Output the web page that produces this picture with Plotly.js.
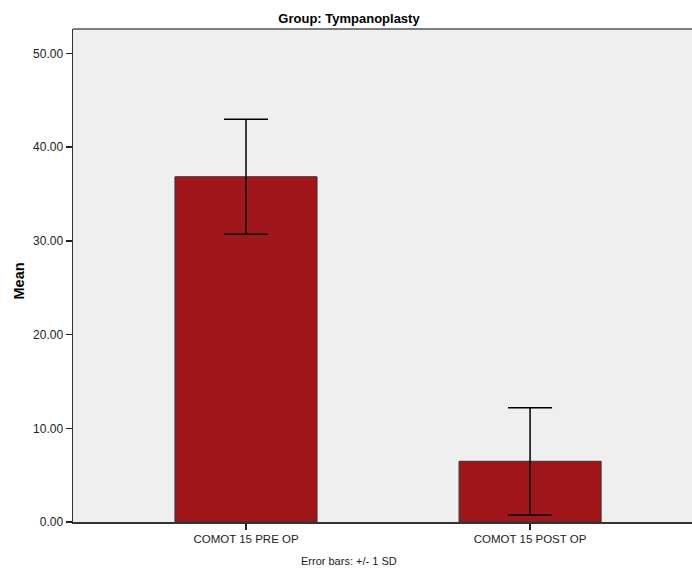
<!DOCTYPE html>
<html>
<head>
<meta charset="utf-8">
<script src="https://cdn.plot.ly/plotly-3.0.1.min.js"></script>
<style>html,body{margin:0;padding:0;background:#fff;}#chart{width:692px;height:568px;}</style>
</head>
<body>
<div id="chart"></div>
<script>
const categories = ["COMOT 15 PRE OP", "COMOT 15 POST OP"];
const means = [36.85, 6.48];
const sds = [6.15, 5.72];
const yTickVals = [0, 10, 20, 30, 40, 50];
const chartTitle = "Group: Tympanoplasty";
const yTitle = "Mean";
const footnote = "Error bars: +/- 1 SD";

const FONT = "Liberation Sans, Arial, sans-serif";

const trace = {
  type: "bar",
  x: [0, 1],
  y: means,
  width: 0.5,
  marker: { color: "#A0161A", line: { color: "#333333", width: 1 } },
  error_y: { type: "data", array: sds, visible: true, color: "#000000", thickness: 1.5, width: 22 },
  hoverinfo: "none"
};

const layout = {
  width: 692,
  height: 568,
  margin: { l: 73, r: 0, t: 29, b: 46, pad: 0 },
  paper_bgcolor: "#ffffff",
  plot_bgcolor: "#EFEFEF",
  showlegend: false,
  font: { family: FONT, color: "#222222" },
  title: {
    text: "<b>" + chartTitle + "</b>",
    font: { family: FONT, size: 13, color: "#000000" },
    xref: "container", x: 349 / 692, xanchor: "center",
    yref: "container", y: 1 - 18 / 568, yanchor: "middle"
  },
  xaxis: {
    range: [-0.609, 1.570],
    tickmode: "array",
    tickvals: [0, 1],
    ticktext: categories,
    ticks: "outside", ticklen: 6, tickwidth: 1.5, tickcolor: "#222222",
    tickfont: { family: FONT, size: 11.5, color: "#222222" },
    showline: true, linecolor: "#333333", linewidth: 1.5,
    showgrid: false, zeroline: false, fixedrange: true
  },
  yaxis: {
    range: [0, 52.62],
    tickmode: "array",
    tickvals: yTickVals,
    ticktext: yTickVals.map(v => v.toFixed(2)),
    ticks: "outside", ticklen: 6, tickwidth: 1.5, tickcolor: "#222222",
    tickfont: { family: FONT, size: 12, color: "#222222" },
    showline: true, linecolor: "#333333", linewidth: 1.5,
    showgrid: false, zeroline: false, fixedrange: true
  },
  shapes: [
    { type: "line", xref: "paper", yref: "paper", x0: 0, x1: 1, y0: 1, y1: 1,
      line: { color: "#555555", width: 1.5 } }
  ],
  annotations: [
    { text: "<b>" + yTitle + "</b>", textangle: -90, showarrow: false,
      xref: "paper", yref: "paper", x: (18.5 - 73) / 619, y: (522 - 281) / 493,
      xanchor: "center", yanchor: "middle",
      font: { family: FONT, size: 14.5, color: "#000000" } },
    { text: footnote, showarrow: false,
      xref: "paper", yref: "paper", x: (349 - 73) / 619, y: (522 - 561) / 493,
      xanchor: "center", yanchor: "middle",
      font: { family: FONT, size: 11, color: "#222222" } }
  ]
};

Plotly.newPlot("chart", [trace], layout, { displayModeBar: false, staticPlot: true });
</script>
</body>
</html>
